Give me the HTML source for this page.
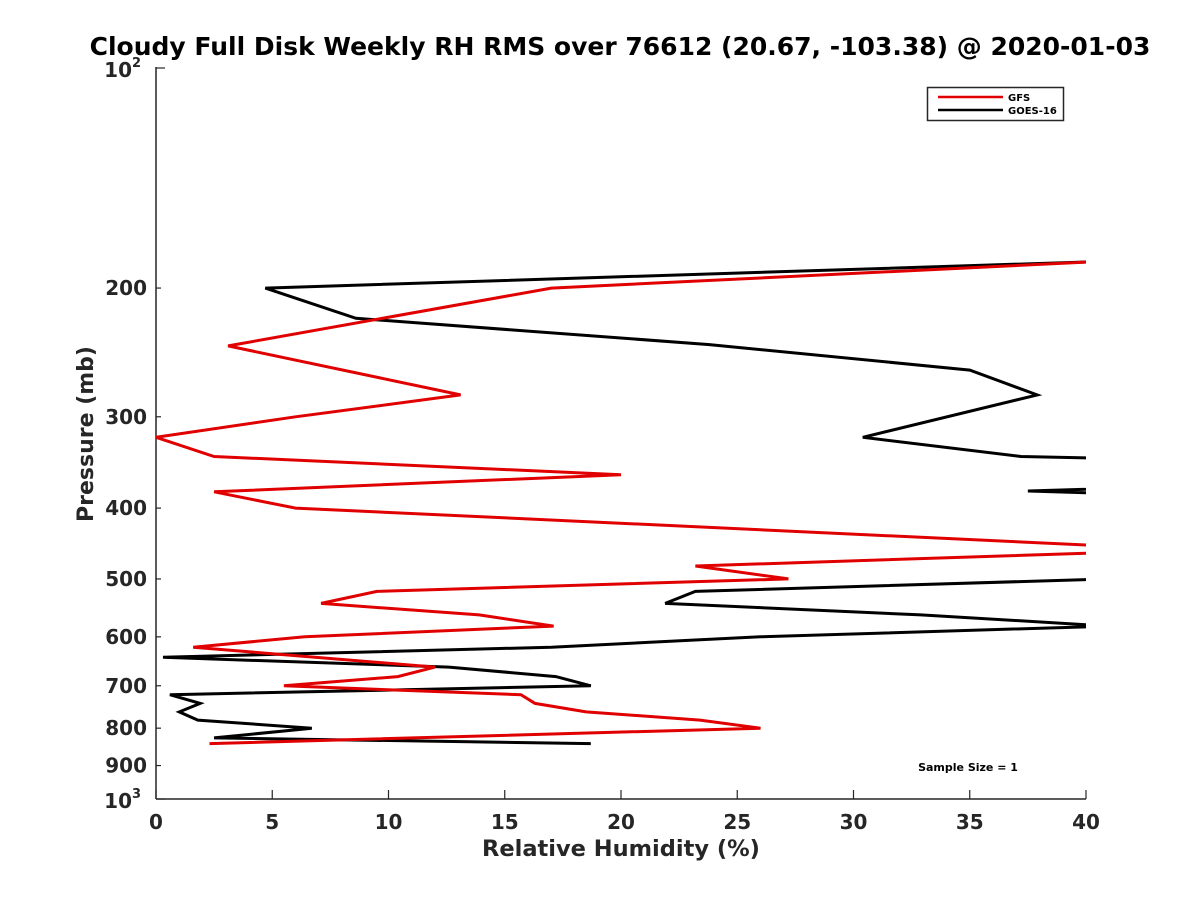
<!DOCTYPE html>
<html><head><meta charset="utf-8"><style>
body{margin:0;background:#fff;}
svg{display:block;font-family:"DejaVu Sans","Liberation Sans",sans-serif;font-weight:bold;}
</style></head><body>
<svg id="chart" width="1200" height="900" viewBox="0 0 1200 900">
<defs><clipPath id="plotclip"><rect x="156" y="67" width="930" height="732"/></clipPath></defs>
<rect x="0" y="0" width="1200" height="900" fill="#fff"/>
<text x="620" y="55" font-size="25" text-anchor="middle" fill="#000">Cloudy Full Disk Weekly RH RMS over 76612 (20.67, -103.38) @ 2020-01-03</text>
<g id="axes"></g>
<g id="series" clip-path="url(#plotclip)"></g>
<text x="621" y="856" font-size="22.5" text-anchor="middle" fill="#262626">Relative Humidity (%)</text>
<text transform="translate(93,434) rotate(-90)" font-size="22" text-anchor="middle" fill="#262626">Pressure (mb)</text>
<g>
<rect x="927.5" y="87.5" width="136" height="33" fill="#fff" stroke="#262626" stroke-width="1.5"/>
<line x1="938" y1="97" x2="1003" y2="97" stroke="#e00000" stroke-width="2.5"/>
<text x="1008" y="101" font-size="10" fill="#000">GFS</text>
<line x1="938" y1="110" x2="1003" y2="110" stroke="#000" stroke-width="2.5"/>
<text x="1008" y="114" font-size="10" fill="#000">GOES-16</text>
</g>
<text x="968" y="771" font-size="11" text-anchor="middle" fill="#000">Sample Size = 1</text>
</svg>
<script>
const xTicks = [0,5,10,15,20,25,30,35,40];
const yTicks = [200,300,400,500,600,700,800,900];
const gfsPressure = [184,200,240,280,300,320,340,360,380,400,450,460,480,500,520,540,560,580,600,620,660,680,700,720,740,760,780,800,840];
const gfsRH = [40.5,17,3.1,13.1,6,0,2.5,20,2.5,6,40.5,41,23.2,27.2,9.5,7.1,13.9,17.1,6.4,1.6,12,10.4,5.5,15.7,16.3,18.5,23.4,26,2.3];
const goesPressure = [184,200,220,239,259,280,320,340,342,360,379,382,400,440,480,500,520,540,560,580,600,620,640,660,680,700,720,740,760,780,800,825,840];
const goesRH = [40.5,4.7,8.6,23.8,35,37.9,30.4,37.2,41,60,37.5,41,60,60,60,41,23.2,21.9,32.9,41,26,17,0.3,12.6,17.2,18.7,0.6,1.9,1,1.8,6.7,2.5,18.7];

const X0=156,X1=1086,Y0=68,Y1=799;
const xs = v => X0 + (v-0)/(40-0)*(X1-X0);
const ys = p => Y0 + (Math.log10(p)-2)*(Y1-Y0);
const NS='http://www.w3.org/2000/svg';
const axes=document.getElementById('axes'), series=document.getElementById('series');
function mk(tag,attrs,parent){const e=document.createElementNS(NS,tag);for(const k in attrs)e.setAttribute(k,attrs[k]);parent.appendChild(e);return e;}

let e;
e=mk('line',{x1:X0,y1:Y0-1,x2:X0,y2:Y1,stroke:'#262626','stroke-width':1.5},axes);


e=mk('line',{x1:X0,y1:Y1,x2:X1,y2:Y1,stroke:'#262626','stroke-width':1.5},axes);



xTicks.forEach(t=>{
  const x=xs(t);
  let l=mk('line',{x1:x,y1:Y1,x2:x,y2:Y1-9,stroke:'#262626','stroke-width':1.2},axes);
  
  
  let tx=mk('text',{x:x,y:829,'font-size':20,'text-anchor':'middle',fill:'#262626'},axes);
  tx.textContent=t;
  
  
});
[100,1000].forEach((p,i)=>{
  const y=ys(p);
  let l=mk('line',{x1:X0,y1:y,x2:X0+9,y2:y,stroke:'#262626','stroke-width':1.2},axes);
  
  
  let tx=mk('text',{x:132,y:y+9,'font-size':20,'text-anchor':'end',fill:'#262626'},axes);
  tx.textContent='10';
  
  
  let sp=mk('text',{x:132,y:y-1,'font-size':13,fill:'#262626'},axes);
  sp.textContent=i===0?'2':'3';
  
  
});
yTicks.forEach(p=>{
  const y=ys(p);
  let l=mk('line',{x1:X0,y1:y,x2:X0+5,y2:y,stroke:'#262626','stroke-width':1.2},axes);
  
  
  let tx=mk('text',{x:147,y:y+7,'font-size':20,'text-anchor':'end',fill:'#262626'},axes);
  tx.textContent=p;
  
  
});

function line(P,V,color,name){
  const d=P.map((p,i)=>(i?'L':'M')+xs(V[i]).toFixed(1)+','+ys(p).toFixed(1)).join('');
  let pth=mk('path',{d:d,fill:'none',stroke:color,'stroke-width':3,'stroke-linejoin':'miter'},series);
  
  
}
line(goesPressure,goesRH,'#000','goes16-line');
line(gfsPressure,gfsRH,'#e00000','gfs-line');
</script>
</body></html>
